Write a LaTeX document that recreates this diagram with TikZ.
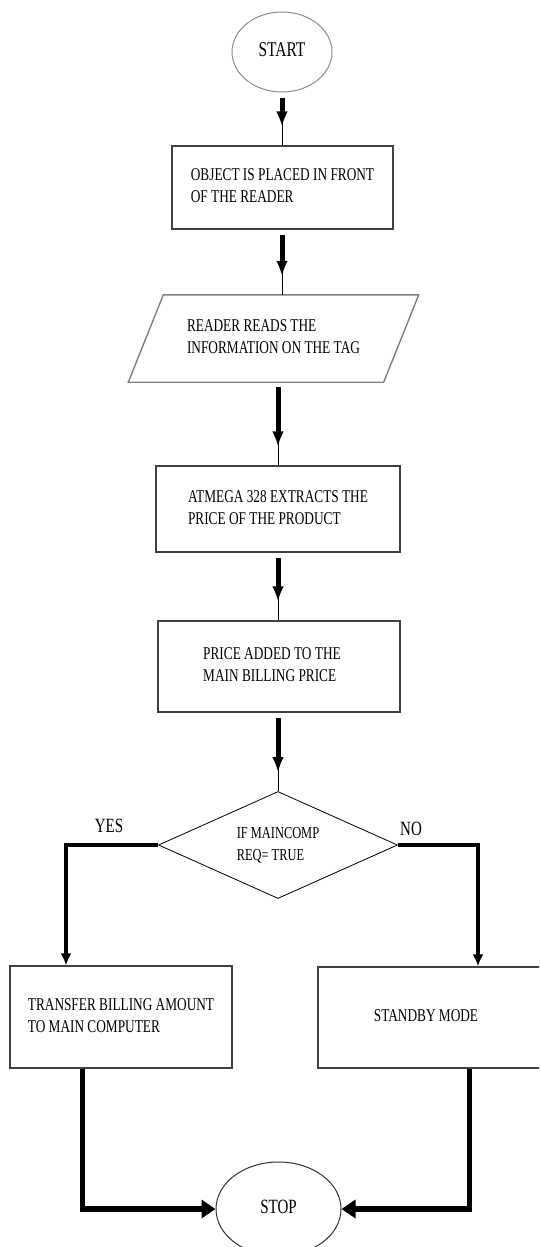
\documentclass[tikz,border=0pt]{standalone}
\usepackage{fontspec}
\setmainfont{Liberation Serif}
\usetikzlibrary{shapes.geometric,arrows.meta}
\newcommand{\tallbox}[2][13.3]{\scalebox{1}[1.35]{\fontsize{#1}{16.3}\selectfont%
  \begin{tabular}{@{}l@{}}#2\end{tabular}}}

\begin{document}
\begin{tikzpicture}[x=1pt,y=-1pt]%
  \tikzstyle{boxn}=[rectangle,draw=black!75,line width=1.3pt,inner sep=0]
  \tikzstyle{ovaln}=[ellipse,draw=black!45,line width=1pt,inner sep=0]
  \tikzstyle{diamn}=[diamond,draw=black,line width=0.8pt,inner sep=0,aspect=2.23]
  \tikzstyle{flowarr}=[draw,line width=1pt,shorten <=5pt,
    postaction={draw,line width=5pt,shorten >=8pt,-{Latex[length=26pt,width=10pt]}}]
  \tikzstyle{sidearr}=[draw,line width=4.5pt,-{Latex[length=12pt,width=11pt]}]
  \tikzstyle{endarr}=[draw,line width=5.5pt,-{Triangle[length=14pt,width=18pt]}]
  \useasboundingbox (0,0) rectangle (539,1247);
  \clip (0,0) rectangle (539,1247);
  \node(start)[ovaln,minimum width=100pt,minimum height=80pt] at (282,52) {\tallbox[15.5]{START}};
  \node(place)[boxn,minimum width=221pt,minimum height=83pt] at (282.5,187.5)
    {\tallbox{OBJECT IS PLACED IN FRONT\\OF THE READER}};
  \node(read)[rectangle,inner sep=0,minimum width=255pt,minimum height=87pt] at (273.5,338.5)
    {\tallbox{READER READS THE\\INFORMATION ON THE TAG}};
  \draw[draw=black!50,line width=1.4pt] ([xshift=17.5pt]read.north west) -- ([xshift=17.5pt]read.north east)
    -- ([xshift=-17.5pt]read.south east) -- ([xshift=-17.5pt]read.south west) -- cycle;
  \node(extract)[boxn,minimum width=244pt,minimum height=86pt] at (278,509)
    {\tallbox{ATMEGA 328 EXTRACTS THE\\PRICE OF THE PRODUCT}};
  \node(add)[boxn,minimum width=242pt,minimum height=91pt] at (279,666.5)
    {\hspace*{-14pt}\tallbox{PRICE ADDED TO THE\\MAIN BILLING PRICE}};
  \node(cond)[diamn,minimum width=239pt,minimum height=107pt] at (278,845)
    {\tallbox[12.4]{IF MAINCOMP\\REQ= TRUE}};
  \node(transfer)[boxn,minimum width=222pt,minimum height=102pt] at (121,1017)
    {\tallbox{TRANSFER BILLING AMOUNT\\TO MAIN COMPUTER}};
  \node(standby)[boxn,minimum width=240pt,minimum height=101pt] at (438,1017.5)
    {\hspace*{-24pt}\tallbox{STANDBY MODE}};
  \node(stop)[ellipse,draw=black!80,line width=1pt,inner sep=0,minimum width=125pt,minimum height=94pt]
    at (278.5,1209) {\tallbox[15]{STOP}};
  \node(yes) at (109,828.5) {\tallbox[15]{YES}};
  \node(no) at (411,831.5) {\tallbox[15]{NO}};
  % main line
  \draw[flowarr] (start.south) -- (start.south |- place.north);
  \draw[flowarr] (place.south -| start.south) -- (start.south |- read.north);
  \draw[flowarr] (extract.north |- read.south) -- (extract.north);
  \draw[flowarr] (extract.south) -- (extract.south |- add.north);
  \draw[flowarr] (extract.south |- add.south) -- (cond.north);
  % branches
  \coordinate (yesturn) at (66,845);
  \coordinate (noturn) at (478,845);
  \draw[sidearr] (cond.west) -- (yesturn) -- (yesturn |- transfer.north);
  \draw[sidearr] (cond.east) -- (noturn) -- (noturn |- standby.north);
  \draw[endarr] ([xshift=73pt]transfer.south west) |- (stop.west);
  \draw[endarr] ([xshift=152pt]standby.south west) |- (stop.east);
\end{tikzpicture}
\end{document}
